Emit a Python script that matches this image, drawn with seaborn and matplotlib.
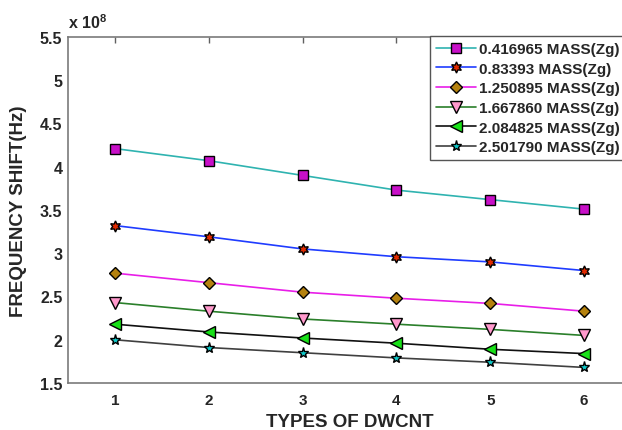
import matplotlib
matplotlib.use("Agg")
import matplotlib.pyplot as plt
import seaborn as sns
import pandas as pd

# DWCNT type index on the x axis
types = [1, 2, 3, 4, 5, 6]

# Frequency shift in units of 1e8 Hz, one list per attached mass
mass_labels = [
    "0.416965 MASS(Zg)",
    "0.83393 MASS(Zg)",
    "1.250895 MASS(Zg)",
    "1.667860 MASS(Zg)",
    "2.084825 MASS(Zg)",
    "2.501790 MASS(Zg)",
]
shift_m1 = [4.21, 4.07, 3.90, 3.73, 3.62, 3.51]
shift_m2 = [3.32, 3.19, 3.05, 2.96, 2.90, 2.80]
shift_m3 = [2.77, 2.66, 2.55, 2.48, 2.42, 2.33]
shift_m4 = [2.43, 2.33, 2.24, 2.18, 2.12, 2.05]
shift_m5 = [2.18, 2.09, 2.02, 1.96, 1.89, 1.84]
shift_m6 = [2.00, 1.91, 1.85, 1.79, 1.74, 1.68]
series = [shift_m1, shift_m2, shift_m3, shift_m4, shift_m5, shift_m6]

y_ticks = [1.5, 2, 2.5, 3, 3.5, 4, 4.5, 5, 5.5]
y_tick_labels = ["1.5", "2", "2.5", "3", "3.5", "4", "4.5", "5", "5.5"]

# line colour, marker, marker face colour, marker size
styles = [
    ("#2fb3b0", "s", "#c810c8", 6.5),
    ("#1f3cff", (6, 1, 0), "#e02a00", 8.0),
    ("#e81ee8", "D", "#b5820f", 6.5),
    ("#2a7f2a", "v", "#ff99cc", 8.0),
    ("#101010", "<", "#18e018", 8.0),
    ("#404040", "*", "#10c8c8", 8.0),
]

sns.set_style("white")
plt.rcParams["font.family"] = ["Liberation Sans", "DejaVu Sans"]
plt.rcParams["font.weight"] = "bold"
plt.rcParams["mathtext.fontset"] = "custom"
plt.rcParams["mathtext.bf"] = "Liberation Sans:bold"
plt.rcParams["mathtext.rm"] = "Liberation Sans:bold"

fig = plt.figure(figsize=(6.22, 4.31), dpi=100)
ax = fig.add_axes([68 / 622, 1 - 384 / 431, (631 - 68) / 622, (384 - 38) / 431])

handles = []
for label, vals, (lc, mk, mfc, ms) in zip(mass_labels, series, styles):
    df = pd.DataFrame({"type": types, "shift": vals})
    sns.lineplot(data=df, x="type", y="shift", ax=ax, color=lc, linewidth=1.2,
                 marker=mk, markerfacecolor=mfc, markeredgecolor="black",
                 markeredgewidth=1.0, markersize=ms, label=label, legend=False)
    handles.append(ax.lines[-1])

ax.set_xlim(0.5, 6.5)
ax.set_ylim(1.5, 5.5)
ax.set_xticks(types)
ax.set_xticklabels([str(t) for t in types], fontsize=11, fontweight="bold")
ax.set_yticks(y_ticks)
ax.set_yticklabels(y_tick_labels, fontsize=11.5, fontweight="bold")
ax.tick_params(axis="x", pad=7)
ax.tick_params(axis="y", pad=4)
ax.tick_params(direction="in", length=4, width=1, color="#606060",
               top=True, right=True)

for sp in ax.spines.values():
    sp.set_color("#7a7a7a")
    sp.set_linewidth(1.2)

ax.set_xlabel("TYPES OF DWCNT", fontsize=13.5, fontweight="bold")
ax.xaxis.label.set_va("baseline")
ax.xaxis.set_label_coords(0.5, -(427 - 384) / 346)
ax.set_ylabel("FREQUENCY SHIFT(Hz)", fontsize=13.5, fontweight="bold")
ax.yaxis.set_label_coords(-(68 - 27) / 563, 0.5)

ax.text(0.0, 1.018, r"x 10$^{\mathbf{8}}$", transform=ax.transAxes,
        fontsize=11.5, fontweight="bold", ha="left", va="bottom")

leg = ax.legend(handles=handles, labels=mass_labels, loc="upper left",
                bbox_to_anchor=(430 / 622, 1 - 37 / 431),
                bbox_transform=fig.transFigure, borderaxespad=0,
                prop={"size": 11, "weight": "bold"}, frameon=True,
                fancybox=False, framealpha=1, edgecolor="#555555",
                handlelength=2.6, handletextpad=0.2, labelspacing=0.37,
                borderpad=0.4, numpoints=1)
leg.get_frame().set_linewidth(1.0)

ax.set_facecolor("white")
fig.patch.set_facecolor("white")
fig.savefig("out.png", dpi=100)
